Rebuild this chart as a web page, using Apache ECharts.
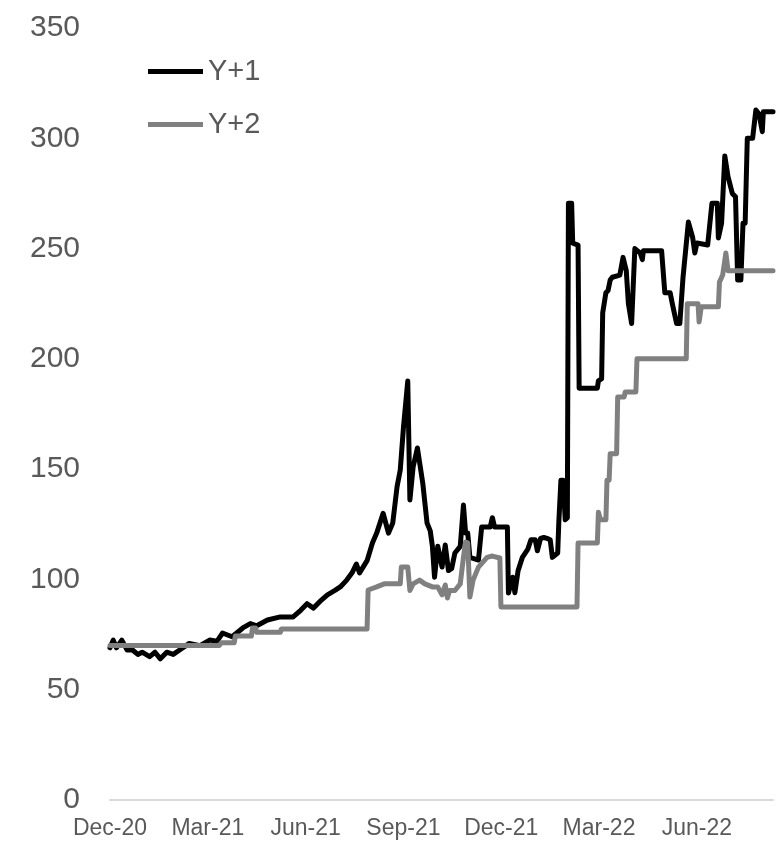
<!DOCTYPE html>
<html>
<head>
<meta charset="utf-8">
<script src="https://cdn.jsdelivr.net/npm/echarts@6/dist/echarts.min.js"></script>
<style>
html,body{margin:0;padding:0;background:#fff;}
#chart{width:784px;height:844px;}
</style>
</head>
<body>
<div id="chart"></div>
<script>
// ---- data ----
const xTickLabels = ['Dec-20','Mar-21','Jun-21','Sep-21','Dec-21','Mar-22','Jun-22'];
const seriesNames = ['Y+1','Y+2'];

const y1Dates = [
'2020-12-01','2020-12-04','2020-12-07','2020-12-12','2020-12-17','2020-12-22','2020-12-27','2020-12-31',
'2021-01-07','2021-01-12','2021-01-17','2021-01-23','2021-01-29','2021-02-04','2021-02-13','2021-02-23',
'2021-03-04','2021-03-11','2021-03-16','2021-03-25','2021-04-04','2021-04-11','2021-04-17','2021-04-27',
'2021-05-09','2021-05-21','2021-05-28','2021-06-03','2021-06-09','2021-06-15','2021-06-22','2021-06-29',
'2021-07-04','2021-07-10','2021-07-15','2021-07-19','2021-07-22','2021-07-29','2021-08-03','2021-08-07',
'2021-08-13','2021-08-18','2021-08-22','2021-08-26','2021-08-29','2021-09-01','2021-09-05','2021-09-07',
'2021-09-10','2021-09-14','2021-09-19','2021-09-23','2021-09-26','2021-09-28','2021-09-30','2021-10-03',
'2021-10-07','2021-10-10','2021-10-13','2021-10-16','2021-10-19','2021-10-24','2021-10-27','2021-10-29',
'2021-10-31','2021-11-02','2021-11-10','2021-11-13','2021-11-21','2021-11-23','2021-11-25','2021-12-07',
'2021-12-08','2021-12-12','2021-12-14','2021-12-17','2021-12-21','2021-12-26','2021-12-29','2022-01-02',
'2022-01-04','2022-01-07','2022-01-10','2022-01-13','2022-01-16','2022-01-18','2022-01-23','2022-01-24',
'2022-01-26','2022-01-28','2022-01-30','2022-02-01','2022-02-02','2022-02-05','2022-02-06','2022-02-11',
'2022-02-12','2022-03-01','2022-03-02','2022-03-05','2022-03-06','2022-03-09','2022-03-11','2022-03-13',
'2022-03-15','2022-03-22','2022-03-25','2022-03-28','2022-03-30','2022-04-02','2022-04-05','2022-04-10',
'2022-04-12','2022-04-13','2022-04-30','2022-05-03','2022-05-08','2022-05-10','2022-05-14','2022-05-17',
'2022-05-20','2022-05-25','2022-05-29','2022-05-31','2022-06-02','2022-06-12','2022-06-16','2022-06-21',
'2022-06-22','2022-06-25','2022-06-28','2022-07-01','2022-07-05','2022-07-08','2022-07-10','2022-07-13',
'2022-07-15','2022-07-17','2022-07-19','2022-07-24','2022-07-27','2022-07-30','2022-08-02','2022-08-03',
'2022-08-12'
];
const y1Values = [
69,72.5,69,72.5,68,68,66,67,
65,67,64,67,66,68,71,70,
72.5,72,75.7,74,78,80,79,81.6,
83,83,86,89,87,90,93,95,
96.6,99.7,103,107,103,108.5,116.5,121,
130,121,125.6,142,149.6,169,190,136,
151,159.6,143.7,125.6,122,115,101,115,
105.6,115.6,104,105,112,115,133.7,121,
121,110,108.8,123.8,123.8,128,123.8,123.8,
93.8,101,94,104,110,113.6,118,118,
113,118.6,119,118.6,118,110,112,125.6,
145,145,127,128,270.6,270.6,252.5,251.6,
186.7,186.7,190,191,220.8,230,231,235.7,
237,238,246,240,225,216,250,248,
245,249,249,230,230,225,216,216,
237,262,255,248,252.5,251.6,270.6,270.6,
254.8,261.5,292,282.6,275,273.5,235.7,235.7,
261.5,261.5,300,300,312.8,311,303,312,
312
];

const y2Dates = [
'2020-12-01','2021-03-13','2021-03-15','2021-03-27','2021-03-28','2021-04-12','2021-04-13','2021-04-16',
'2021-04-17','2021-05-09','2021-05-10','2021-07-29','2021-07-30','2021-08-07','2021-08-14','2021-08-29',
'2021-08-30','2021-09-05','2021-09-07','2021-09-10','2021-09-16','2021-09-21','2021-09-28','2021-10-03',
'2021-10-07','2021-10-10','2021-10-12','2021-10-14','2021-10-19','2021-10-24','2021-10-27','2021-10-29',
'2021-10-31','2021-11-02','2021-11-05','2021-11-10','2021-11-18','2021-11-23','2021-11-30','2021-12-01',
'2022-02-10','2022-02-11','2022-03-01','2022-03-02','2022-03-04','2022-03-09','2022-03-10','2022-03-12',
'2022-03-13','2022-03-19','2022-03-20','2022-03-26','2022-03-27','2022-04-06','2022-04-07','2022-05-23',
'2022-05-24','2022-06-03','2022-06-04','2022-06-06','2022-06-22','2022-06-23','2022-06-26','2022-06-29',
'2022-07-01','2022-08-12'
];
const y2Values = [
70,70,71.3,71.3,74.3,74.3,78,78,
76,76,77.5,77.5,95.2,96.6,98,98,
105.6,105.6,95,98,99.7,98,96.6,96.6,
93,97.5,91.6,95,95,98,110,117,
116.5,92,99.7,105.6,110,110.6,109.7,87.5,
87.5,116.5,116.5,130.5,127,127,145,145,
157,157,182.7,182.7,185,185,200,200,
225,225,216.7,223.6,223.6,234.8,238,248,
240,240
];

// ---- helpers ----
const DAY0 = Date.UTC(2020, 11, 1);
const QUARTER = 91.3125;
function toDay(s) { return (Date.parse(s + 'T00:00:00Z') - DAY0) / 86400000; }
function pairs(dates, vals) { return dates.map((d, i) => [toDay(d), vals[i]]); }

const FONT = '"Liberation Sans", Arial, sans-serif';
const TXT = '#595959';

const chart = echarts.init(document.getElementById('chart'), null, {renderer: 'canvas'});
chart.setOption({
  animation: false,
  backgroundColor: '#ffffff',
  grid: {left: 110, right: 11, top: 28, bottom: 44, containLabel: false},
  legend: {
    orient: 'vertical',
    left: 148,
    top: 57,
    padding: 0,
    itemGap: 24,
    itemWidth: 55,
    itemHeight: 5,
    icon: 'rect',
    textStyle: {fontFamily: FONT, fontSize: 29, color: TXT},
    data: seriesNames
  },
  xAxis: {
    type: 'value',
    min: 0,
    max: 619,
    interval: QUARTER,
    axisLine: {show: true, lineStyle: {color: '#d9d9d9', width: 2}},
    axisTick: {show: false},
    splitLine: {show: false},
    axisLabel: {
      fontFamily: FONT, fontSize: 23, color: TXT, margin: 17,
      showMaxLabel: false,
      formatter: function (v) {
        const q = v / QUARTER, r = Math.round(q);
        if (Math.abs(q - r) > 0.01) return '';
        return xTickLabels[r] || '';
      }
    }
  },
  yAxis: {
    type: 'value',
    min: 0,
    max: 350,
    interval: 50,
    axisLine: {show: false},
    axisTick: {show: false},
    splitLine: {show: false},
    axisLabel: {fontFamily: FONT, fontSize: 30, color: TXT, margin: 30}
  },
  series: [
    {
      name: seriesNames[0], type: 'line', data: pairs(y1Dates, y1Values),
      showSymbol: false, symbol: 'none',
      lineStyle: {color: '#000000', width: 5, cap: 'round', join: 'round'},
      itemStyle: {color: '#000000'}
    },
    {
      name: seriesNames[1], type: 'line', data: pairs(y2Dates, y2Values),
      showSymbol: false, symbol: 'none',
      lineStyle: {color: '#808080', width: 5, cap: 'round', join: 'round'},
      itemStyle: {color: '#808080'}
    }
  ]
});
</script>
</body>
</html>
